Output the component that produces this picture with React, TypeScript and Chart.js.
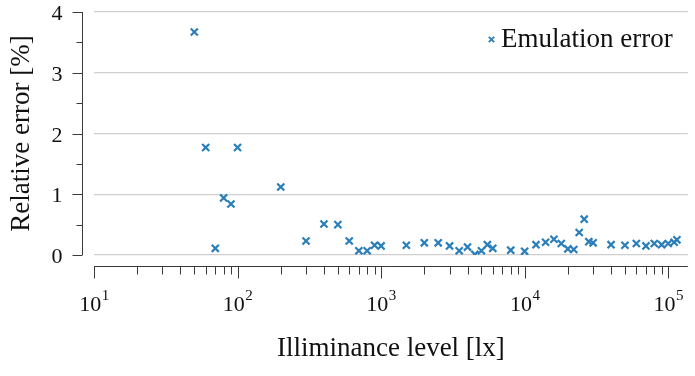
import React, { useEffect, useRef } from "react";
import { Chart, registerables } from "chart.js";

Chart.register(...registerables);

// Measured illuminance levels [lx] and the matching relative emulation error [%]
const illuminance: number[] = [
  50, 60, 70, 80, 90, 100, 200, 300, 400, 500, 600, 700, 800, 900, 1000, 1500, 2000,
  2500, 3000, 3500, 4000, 4500, 5000, 5500, 6000, 8000, 10000, 12000, 14000, 16000,
  18000, 20000, 22000, 24000, 26000, 28000, 30000, 40000, 50000, 60000, 70000, 80000,
  90000, 100000, 110000, 115000,
];
const relativeError: number[] = [
  3.67, 1.77, 0.11, 0.94, 0.84, 1.77, 1.12, 0.23, 0.51, 0.5, 0.23, 0.07, 0.07, 0.16,
  0.15, 0.16, 0.2, 0.2, 0.15, 0.07, 0.13, 0.01, 0.07, 0.17, 0.11, 0.08, 0.06, 0.17,
  0.21, 0.26, 0.19, 0.1, 0.09, 0.37, 0.59, 0.22, 0.2, 0.17, 0.16, 0.19, 0.15, 0.19,
  0.17, 0.19, 0.21, 0.25,
];

const yTicks: number[] = [0, 1, 2, 3, 4];
const yMinorTicks: number[] = [0.5, 1.5, 2.5, 3.5];
const xDecades: number[] = [1, 2, 3, 4, 5];

const seriesLabel = "Emulation error";
const xTitle = "Illiminance level [lx]";
const yTitle = "Relative error [%]";

const BLUE = "#2a7fba";
const AXIS = "#3a3a3a";
const FONT = '"Liberation Serif", "DejaVu Serif", serif';

const axesPlugin = {
  id: "offsetAxes",
  afterDraw(chart: any) {
    const { ctx, chartArea: area } = chart;
    const xs = chart.scales.x;
    const ys = chart.scales.y;
    ctx.save();
    ctx.strokeStyle = AXIS;
    ctx.fillStyle = "#111";
    ctx.lineWidth = 1;

    // y axis, offset to the left of the plot area
    const yAxisX = Math.round(area.left - 12) + 0.5;
    ctx.beginPath();
    ctx.moveTo(yAxisX, ys.getPixelForValue(4));
    ctx.lineTo(yAxisX, ys.getPixelForValue(0));
    ctx.stroke();
    ctx.font = `22px ${FONT}`;
    ctx.textAlign = "right";
    ctx.textBaseline = "middle";
    for (const v of yTicks) {
      const py = Math.round(ys.getPixelForValue(v)) + 0.5;
      ctx.beginPath();
      ctx.moveTo(yAxisX - 10, py);
      ctx.lineTo(yAxisX, py);
      ctx.stroke();
      ctx.fillText(String(v), yAxisX - 20, py + 1.5);
    }
    for (const v of yMinorTicks) {
      const py = Math.round(ys.getPixelForValue(v)) + 0.5;
      ctx.beginPath();
      ctx.moveTo(yAxisX - 6, py);
      ctx.lineTo(yAxisX, py);
      ctx.stroke();
    }

    // x axis, offset below the plot area
    const xAxisY = Math.round(area.bottom + 11) + 0.5;
    ctx.beginPath();
    ctx.moveTo(area.left, xAxisY);
    ctx.lineTo(area.right, xAxisY);
    ctx.stroke();
    for (const d of xDecades) {
      for (let k = 1; k <= 9; k++) {
        const v = k * Math.pow(10, d);
        if (v < xs.min || v > xs.max) continue;
        const px = Math.round(xs.getPixelForValue(v)) + 0.5;
        ctx.beginPath();
        ctx.moveTo(px, xAxisY);
        ctx.lineTo(px, xAxisY + (k === 1 ? 12 : 8));
        ctx.stroke();
      }
      // decade label: 10 with a raised exponent
      const px = xs.getPixelForValue(Math.pow(10, d));
      ctx.textBaseline = "alphabetic";
      ctx.textAlign = "left";
      ctx.font = `22px ${FONT}`;
      const baseW = ctx.measureText("10").width;
      ctx.font = `15px ${FONT}`;
      const expW = ctx.measureText(String(d)).width;
      const start = px - (baseW + expW) / 2;
      ctx.font = `22px ${FONT}`;
      ctx.fillText("10", start, 311);
      ctx.font = `15px ${FONT}`;
      ctx.fillText(String(d), start + baseW + 0.5, 300);
    }

    // axis titles
    ctx.font = `27px ${FONT}`;
    ctx.textAlign = "center";
    ctx.textBaseline = "alphabetic";
    ctx.fillText(xTitle, (area.left + area.right) / 2, 356);
    ctx.save();
    ctx.translate(28.5, (area.top + area.bottom) / 2);
    ctx.rotate(-Math.PI / 2);
    ctx.fillText(yTitle, 0, 0);
    ctx.restore();

    // legend
    const lx = 491.5;
    const ly = 39.5;
    ctx.strokeStyle = BLUE;
    ctx.lineWidth = 1.8;
    ctx.beginPath();
    ctx.moveTo(lx - 2.7, ly - 2.7);
    ctx.lineTo(lx + 2.7, ly + 2.7);
    ctx.moveTo(lx - 2.7, ly + 2.7);
    ctx.lineTo(lx + 2.7, ly - 2.7);
    ctx.stroke();
    ctx.font = `27px ${FONT}`;
    ctx.textAlign = "left";
    ctx.fillStyle = "#111";
    ctx.fillText(seriesLabel, 501, 47);
    ctx.restore();
  },
};

export default function App() {
  const canvasRef = useRef<HTMLCanvasElement | null>(null);

  useEffect(() => {
    if (!canvasRef.current) return;
    const points = illuminance.map((x, i) => ({ x, y: relativeError[i] }));
    const chart = new Chart(canvasRef.current, {
      type: "scatter",
      data: {
        datasets: [
          {
            label: seriesLabel,
            data: points,
            pointStyle: "crossRot",
            pointRadius: 5,
            pointHoverRadius: 5,
            pointBorderWidth: 2.2,
            borderColor: BLUE,
            backgroundColor: BLUE,
          },
        ],
      },
      options: {
        responsive: false,
        animation: false,
        devicePixelRatio: 1,
        layout: { padding: { left: 94, right: 0, top: 12, bottom: 121 } },
        plugins: { legend: { display: false }, tooltip: { enabled: false } },
        scales: {
          x: {
            type: "logarithmic",
            min: 10,
            max: 137000,
            display: false,
          },
          y: {
            type: "linear",
            min: 0,
            max: 4,
            ticks: { display: false, stepSize: 1 },
            grid: { color: "#cfcfcf", lineWidth: 1.2, drawTicks: false },
            border: { display: false },
          },
        },
      },
      plugins: [axesPlugin],
    });
    return () => chart.destroy();
  }, []);

  return (
    <div style={{ position: "fixed", left: 0, top: 0, width: 695, height: 376, background: "#fff" }}>
      <canvas ref={canvasRef} width={695} height={376} />
    </div>
  );
}
